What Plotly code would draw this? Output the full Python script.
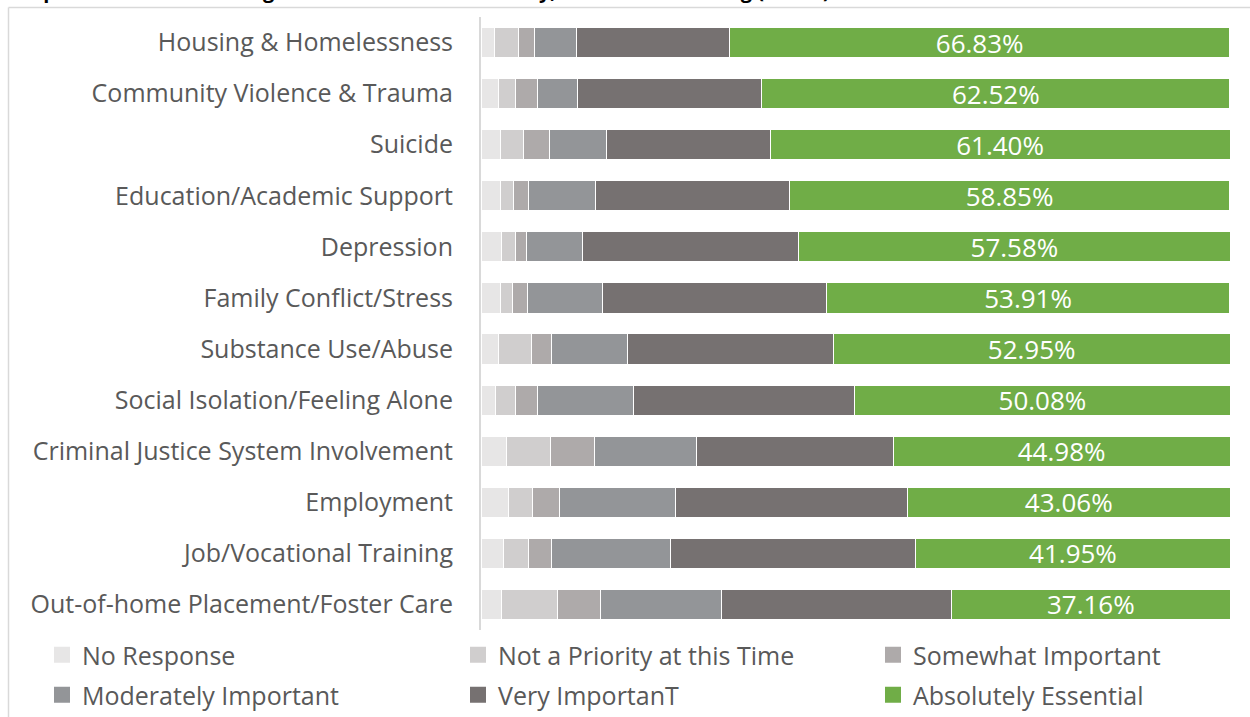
import plotly.graph_objects as go

# Issue categories, top to bottom
categories = [
    "Housing & Homelessness",
    "Community Violence & Trauma",
    "Suicide",
    "Education/Academic Support",
    "Depression",
    "Family Conflict/Stress",
    "Substance Use/Abuse",
    "Social Isolation/Feeling Alone",
    "Criminal Justice System Involvement",
    "Employment",
    "Job/Vocational Training",
    "Out-of-home Placement/Foster Care",
]

# Share of respondents (%) per priority level
no_response = [1.75, 2.39, 2.55, 2.55, 2.71, 2.55, 2.39, 1.91, 3.35, 3.67, 3.03, 2.71]
not_priority = [3.19, 2.23, 3.19, 1.75, 1.91, 1.59, 4.31, 2.71, 5.90, 3.19, 3.35, 7.50]
somewhat = [2.23, 2.87, 3.35, 2.07, 1.44, 2.07, 2.71, 2.87, 5.90, 3.67, 3.03, 5.74]
moderately = [5.58, 5.42, 7.66, 8.93, 7.50, 10.05, 10.21, 12.92, 13.56, 15.47, 15.95, 16.11]
very = [20.41, 24.56, 21.85, 25.84, 28.87, 29.82, 27.43, 29.51, 26.32, 30.94, 32.70, 30.78]
essential = [66.83, 62.52, 61.40, 58.85, 57.58, 53.91, 52.95, 50.08, 44.98, 43.06, 41.95, 37.16]

# name, values, colour, legend column
series = [
    ("No Response", no_response, "#E7E6E6", "legend"),
    ("Not a Priority at this Time", not_priority, "#D0CECE", "legend2"),
    ("Somewhat Important", somewhat, "#AEAAAA", "legend3"),
    ("Moderately Important", moderately, "#939598", "legend"),
    ("Very ImportanT", very, "#767171", "legend2"),
    ("Absolutely Essential", essential, "#70AD47", "legend3"),
]

FONT = "Open Sans, Arial, sans-serif"
TEXT_GRAY = "#595959"

fig = go.Figure()
for name, vals, color, leg in series:
    is_green = name == "Absolutely Essential"
    fig.add_trace(go.Bar(
        y=categories,
        x=vals,
        name=name,
        orientation="h",
        marker=dict(color=color, line=dict(color="white", width=1)),
        text=[f"{v:.2f}%" for v in vals] if is_green else None,
        textposition="inside" if is_green else "none",
        insidetextanchor="middle",
        constraintext="none",
        textfont=dict(color="white", size=26, family=FONT),
        showlegend=False,
        hoverinfo="name+x",
    ))

# Legend keys: square swatches, one per priority level
for name, vals, color, leg in series:
    fig.add_trace(go.Scatter(
        x=[None], y=[None],
        mode="markers",
        name=name,
        marker=dict(symbol="square", size=16, color=color, line=dict(width=0)),
        legend=leg,
        legendgroup=name,
        showlegend=True,
        hoverinfo="skip",
    ))

W, H = 1250, 717
L, R, T, B = 481, 0, 17, 87
plot_w = W - L - R
plot_h = H - T - B


def px_x(px):
    return (px - L) / plot_w


def px_y(py):
    return (H - B - py) / plot_h


legend_common = dict(
    orientation="v",
    xanchor="left",
    yanchor="top",
    y=px_y(632),
    font=dict(size=25, color=TEXT_GRAY, family=FONT),
    tracegroupgap=4.5,
    bgcolor="rgba(0,0,0,0)",
    borderwidth=0,
)

fig.update_layout(
    width=W,
    height=H,
    margin=dict(l=L, r=R, t=T, b=B, autoexpand=False),
    barmode="stack",
    bargap=0.41,
    plot_bgcolor="white",
    paper_bgcolor="white",
    font=dict(family=FONT, color=TEXT_GRAY),
    showlegend=True,
    legend=dict(x=px_x(42), **legend_common),
    legend2=dict(x=px_x(458), **legend_common),
    legend3=dict(x=px_x(873), **legend_common),
    xaxis=dict(
        domain=[0, (1230 - L) / plot_w],
        range=[0, 100],
        showgrid=False,
        zeroline=False,
        showticklabels=False,
        showline=False,
        fixedrange=True,
    ),
    yaxis=dict(
        autorange="reversed",
        showgrid=False,
        showline=True,
        linecolor="#D9D9D9",
        linewidth=2,
        ticks="",
        ticklabelstandoff=21,
        tickfont=dict(size=25, color=TEXT_GRAY, family=FONT),
    ),
    annotations=[
        dict(
            text="Importance of Addressing Each Issue for Youth Safety, Health & Wellbeing (n=627)",
            xref="paper", yref="paper",
            x=px_x(15), y=px_y(6.5),
            xanchor="left", yanchor="bottom",
            showarrow=False,
            font=dict(size=20, color="#000000", family=FONT, weight="bold"),
        )
    ],
    shapes=[
        # outer chart frame (runs past the right and bottom edges)
        dict(type="line", xref="paper", yref="paper",
             x0=px_x(8.5), x1=px_x(1260), y0=px_y(7.5), y1=px_y(7.5),
             line=dict(color="#D9D9D9", width=1.5)),
        dict(type="line", xref="paper", yref="paper",
             x0=px_x(8.5), x1=px_x(8.5), y0=px_y(7.5), y1=px_y(730),
             line=dict(color="#D9D9D9", width=1.5)),
    ],
)

fig.write_html("out.html")
